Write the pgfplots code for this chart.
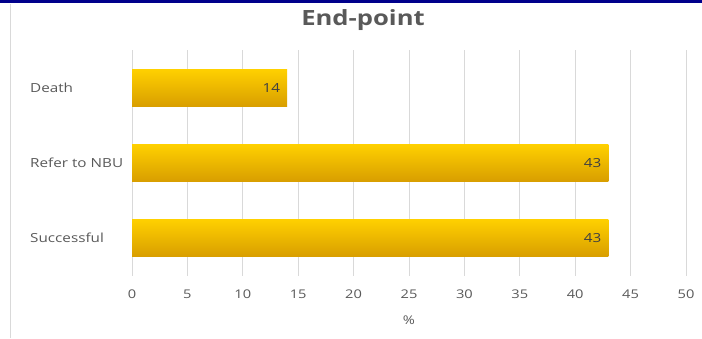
\documentclass[border=0pt]{standalone}
\usepackage{fontspec}
\setmainfont{Open Sans}[FakeStretch=1.22]
\usepackage{pgfplots}
\pgfplotsset{compat=1.18}
\definecolor{txt}{HTML}{595959}
\definecolor{lbl}{HTML}{404040}
\definecolor{gridc}{HTML}{D9D9D9}
\definecolor{bartop}{HTML}{FFD000}
\definecolor{barbot}{HTML}{D89E00}
\definecolor{navy}{HTML}{00008B}
\pgfplotsset{mybar/.style={xbar, bar width=37pt, bar shift=0pt, draw=none,
    top color=bartop, bottom color=barbot,
    nodes near coords,
    nodes near coords style={anchor=east, xshift=-3.5pt, text=lbl, font=\fontsize{12.5}{14}\selectfont}}}
\begin{document}
\begin{tikzpicture}[x=1pt,y=1pt]
\path[use as bounding box] (0,0) rectangle (702,338);
\fill[navy] (0,335) rectangle (702,338);
\draw[gridc, line width=0.8pt] (10,0) -- (10,334);
\node[font=\fontsize{21}{24}\selectfont\bfseries, text=txt] at (363,318) {End-point};
\begin{axis}[
  at={(132pt,62.5pt)}, anchor=south west, scale only axis,
  width=554pt, height=225pt,
  xmin=0, xmax=50, ymin=-0.5, ymax=2.5,
  xtick={0,5,...,50}, ytick={0,1,2},
  yticklabels={Successful,Refer to NBU,Death},
  xmajorgrids, grid style={color=gridc, line width=0.9pt},
  axis line style={draw=none}, major tick length=0pt,
  /pgf/number format/assume math mode=true,
  xticklabel style={font=\fontsize{12}{14}\selectfont, text=txt, anchor=center, yshift=-18.5pt},
  yticklabel style={font=\fontsize{12.5}{14}\selectfont, text=txt, anchor=west, xshift=-102pt, inner sep=0pt},
  xlabel={\%},
  xlabel style={at={(axis description cs:0.5,0)}, anchor=center, yshift=-44.5pt, font=\fontsize{12}{14}\selectfont, text=txt},
]
\addplot[mybar] coordinates {(43,0)};
\addplot[mybar] coordinates {(43,1)};
\addplot[mybar] coordinates {(14,2)};
\end{axis}
\end{tikzpicture}
\end{document}
